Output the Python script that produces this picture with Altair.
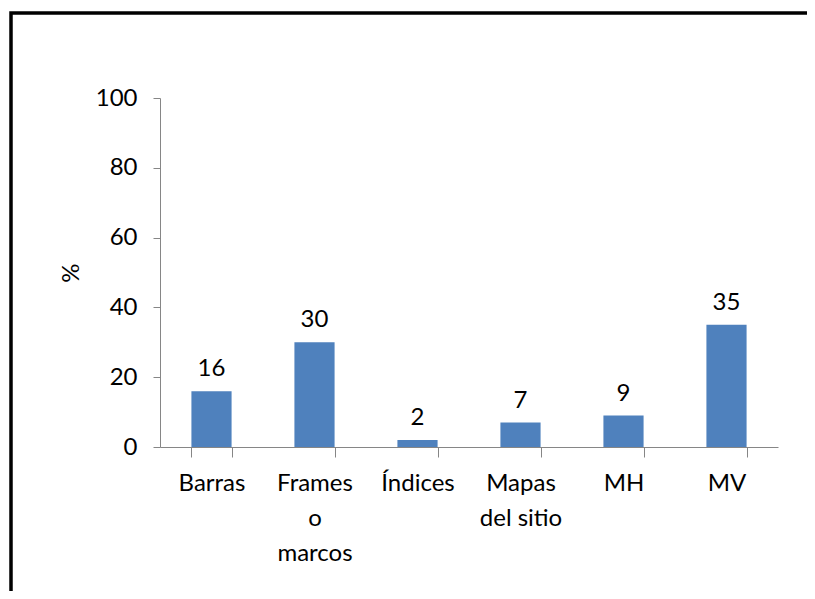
import altair as alt
import pandas as pd

categories = ["Barras", "Frames o marcos", "Índices", "Mapas del sitio", "MH", "MV"]
values = [16, 30, 2, 7, 9, 35]

df = pd.DataFrame({"cat": categories, "val": values})

FONT = "Lato"
FS = 24

label_expr = ("datum.label == 'Frames o marcos' ? ['Frames', 'o', 'marcos'] : "
              "datum.label == 'Mapas del sitio' ? ['Mapas', 'del sitio'] : datum.label")

x = alt.X("cat:N", sort=categories, title=None,
          scale=alt.Scale(paddingInner=0.61, paddingOuter=0.305),
          axis=alt.Axis(labelAngle=0, labelExpr=label_expr, labelFont=FONT, labelFontSize=FS,
                        labelColor="black", labelLineHeight=35, labelPadding=14,
                        tickBand="extent", tickSize=10, tickColor="#868686",
                        domainColor="#868686", labelBaseline="top"))
y = alt.Y("val:Q", title="%",
          scale=alt.Scale(domain=[0, 100]),
          axis=alt.Axis(values=[0, 20, 40, 60, 80, 100], grid=False, labelFont=FONT,
                        labelFontSize=FS, labelColor="black", labelPadding=16,
                        tickSize=7, tickColor="#868686", domainColor="#868686",
                        titleFont=FONT, titleFontSize=FS, titleFontWeight="normal",
                        titleColor="black", titlePadding=12))

base = alt.Chart(df)
bars = base.mark_bar(color="#4F81BD").encode(x=x, y=y)
text = base.mark_text(font=FONT, fontSize=FS, color="black", dy=-22).encode(
    x=alt.X("cat:N", sort=categories), y="val:Q", text="val:Q")

border = alt.Chart(pd.DataFrame({"a": [0]})).mark_rect(
    fill=None, stroke="black", strokeWidth=3.5, clip=False).encode(
    x=alt.value(-149), x2=alt.value(700), y=alt.value(-85), y2=alt.value(620))

chart = alt.layer(bars, text, border).properties(
    width=618, height=349,
    padding={"left": 152, "top": 90, "right": 29, "bottom": 144},
    autosize=alt.AutoSizeParams(type="none")
).configure_view(stroke=None)

chart.save("out.html", embed_options={"renderer": "svg", "actions": False})
